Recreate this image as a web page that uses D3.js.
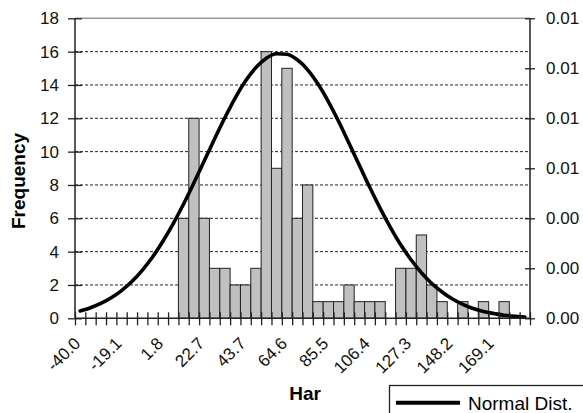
<!DOCTYPE html>
<html>
<head>
<meta charset="utf-8">
<script src="https://cdn.jsdelivr.net/npm/d3@7"></script>
<style>
  html, body { margin: 0; padding: 0; background: #fff; }
  svg { display: block; font-family: "Liberation Sans", Arial, sans-serif; }
</style>
</head>
<body>
<svg id="chart" width="583" height="413"></svg>
<script>
// Bin lower bounds (category labels, one decimal)
const categories = ["-40.0","-34.8","-29.5","-24.3","-19.1","-13.9","-8.6","-3.4",
  "1.8","7.1","12.3","17.5","22.7","28.0","33.2","38.4","43.7","48.9","54.1","59.3",
  "64.6","69.8","75.0","80.3","85.5","90.7","95.9","101.2","106.4","111.6","116.9","122.1",
  "127.3","132.5","137.8","143.0","148.2","153.5","158.7","163.9","169.1","174.4","179.6","184.8"];

// Observed counts per bin
const frequency = [0,0,0,0,0,0,0,0,0,0,
  6,12,6,3,3,2,2,3,16,9,
  15,6,8,1,1,1,2,1,1,1,
  0,3,3,5,2,1,0,1,0,1,
  0,1,0,0];

// Normal density per bin (secondary axis)
const normalDist = [0.000295,0.000423,0.000594,0.00082,0.00111,0.00147,0.00192,0.00245,
  0.00308,0.00379,0.00457,0.00542,0.0063,0.00718,0.00803,0.00882,0.0095,0.01003,0.0104,
  0.01058,0.01056,0.01034,0.00994,0.00937,0.00867,0.00787,0.007,0.00612,0.00524,0.00441,
  0.00364,0.00294,0.00234,0.00182,0.00139,0.00105,0.00077,0.00056,0.00039,0.00027,
  0.00019,0.00012,0.000082,0.000053];

const tickLabels = ["-40.0","-19.1","1.8","22.7","43.7","64.6","85.5","106.4","127.3","148.2","169.1"];
const leftTicks = [0,2,4,6,8,10,12,14,16,18];
const rightTicks = [0,0.002,0.004,0.006,0.008,0.010,0.012];
const rightTickLabels = ["0.00","0.00","0.00","0.01","0.01","0.01","0.01"];

const svg = d3.select("#chart");
const L = 75, R = 530, T = 18.3, B = 318.3;

const x = d3.scaleBand().domain(categories).range([L, R]).padding(0);
const xEdge = d3.scaleLinear().domain([0, categories.length]).range([L, R]);
const yL = d3.scaleLinear().domain([0, 18]).range([B, T]);
const yR = d3.scaleLinear().domain([0, 0.012]).range([B, T]);

// dashed gridlines
svg.append("g").selectAll("line")
  .data(leftTicks.filter(d => d > 0 && d < 18))
  .join("line")
  .attr("x1", L).attr("x2", R)
  .attr("y1", d => yL(d)).attr("y2", d => yL(d))
  .attr("stroke", "#222").attr("stroke-width", 1)
  .attr("stroke-dasharray", "3,2");

// top border of plot area
svg.append("line")
  .attr("x1", L).attr("x2", R).attr("y1", yL(18)).attr("y2", yL(18))
  .attr("stroke", "#999").attr("stroke-width", 1.5);

// histogram bars
svg.append("g").selectAll("rect")
  .data(categories.map((c, i) => ({c, v: frequency[i]})).filter(d => d.v > 0))
  .join("rect")
  .attr("x", d => x(d.c))
  .attr("y", d => yL(d.v))
  .attr("width", x.bandwidth())
  .attr("height", d => yL(0) - yL(d.v))
  .attr("fill", "#c0c0c0")
  .attr("stroke", "#222")
  .attr("stroke-width", 1);

// normal curve
const line = d3.line()
  .x((d, i) => x(categories[i]) + x.bandwidth() / 2)
  .y(d => yR(d))
  .curve(d3.curveMonotoneX);
svg.append("path")
  .datum(normalDist)
  .attr("d", line)
  .attr("fill", "none")
  .attr("stroke", "#000")
  .attr("stroke-width", 3.6)
  .attr("stroke-linecap", "round");

// left axis
const gL = svg.append("g").attr("transform", `translate(${L},0)`)
  .call(d3.axisLeft(yL).tickValues(leftTicks).tickSize(7).tickPadding(9));
gL.selectAll(".tick line").attr("x2", 7).attr("x1", -7);
gL.select(".domain").attr("d", `M0,${T}V${B}`);

// right axis
const gR = svg.append("g").attr("transform", `translate(${R},0)`)
  .call(d3.axisRight(yR).tickValues(rightTicks).tickSize(5).tickPadding(11)
    .tickFormat((d, i) => rightTickLabels[i]));
gR.selectAll(".tick line").attr("x1", -5).attr("x2", 5);
gR.select(".domain").attr("d", `M0,${T}V${B}`);

// bottom axis: tick marks on bin edges
const gB = svg.append("g").attr("transform", `translate(0,${B})`)
  .call(d3.axisBottom(xEdge).tickValues(d3.range(categories.length + 1)).tickSize(7).tickFormat(""));
gB.selectAll(".tick line").attr("y1", -6).attr("y2", 7);
gB.select(".domain").attr("d", `M${L},0H${R}`);

// bottom axis labels, every fourth bin
const gX = svg.append("g").attr("transform", `translate(0,${B})`)
  .call(d3.axisBottom(x).tickValues(tickLabels).tickSize(0));
gX.select(".domain").remove();
gX.selectAll(".tick text")
  .attr("y", 0).attr("dy", "0.35em")
  .attr("transform", "translate(-3,22) rotate(-45)")
  .attr("text-anchor", "end");

svg.selectAll(".domain").attr("stroke", "#222").attr("stroke-width", 1.5);
svg.selectAll(".tick line").attr("stroke", "#222").attr("stroke-width", 1.3);
svg.selectAll(".tick text").attr("font-size", 17).attr("fill", "#111")
  .attr("font-family", "'Liberation Sans', Arial, sans-serif");

// axis titles
svg.append("text")
  .attr("x", 305).attr("y", 400)
  .attr("text-anchor", "middle")
  .attr("font-weight", "bold").attr("font-size", 19)
  .text("Har");
svg.append("text")
  .attr("transform", "translate(25,181) rotate(-90)")
  .attr("text-anchor", "middle")
  .attr("font-weight", "bold").attr("font-size", 19)
  .text("Frequency");

// legend
const lg = svg.append("g");
lg.append("rect")
  .attr("x", 389.5).attr("y", 385.5).attr("width", 210).attr("height", 40)
  .attr("fill", "#fff").attr("stroke", "#222").attr("stroke-width", 1.3);
lg.append("line")
  .attr("x1", 396).attr("x2", 460).attr("y1", 402.7).attr("y2", 402.7)
  .attr("stroke", "#000").attr("stroke-width", 4);
lg.append("text")
  .attr("x", 468).attr("y", 409.5)
  .attr("font-size", 19)
  .text("Normal Dist.");
</script>
</body>
</html>
